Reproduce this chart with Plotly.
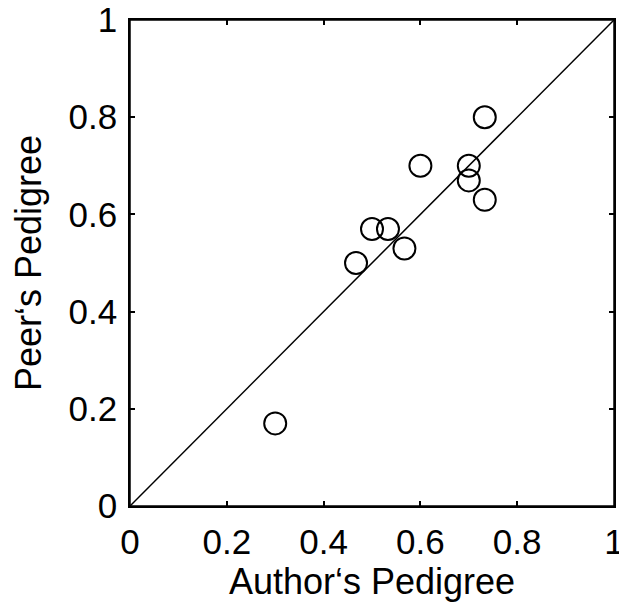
import plotly.graph_objects as go

# values
author_pedigree = [0.300, 0.467, 0.500, 0.533, 0.567, 0.600, 0.700, 0.700, 0.733, 0.733]
peer_pedigree = [0.170, 0.500, 0.570, 0.570, 0.530, 0.700, 0.700, 0.670, 0.800, 0.630]
diag = [0, 1]
tick_vals = [0, 0.2, 0.4, 0.6, 0.8, 1]
tick_text = ['0', '0.2', '0.4', '0.6', '0.8', '1']

font = dict(family='Liberation Sans, Arial, sans-serif', size=35, color='black')
title_font = dict(family='Liberation Sans, Arial, sans-serif', size=36, color='black')

fig = go.Figure()
fig.add_trace(go.Scatter(x=diag, y=diag, mode='lines',
                         line=dict(color='black', width=1.5), hoverinfo='skip'))
fig.add_trace(go.Scatter(x=author_pedigree, y=peer_pedigree, mode='markers',
                         marker=dict(symbol='circle-open', size=22, color='black',
                                     line=dict(width=2, color='black'))))

axis = dict(range=[0, 1], tickvals=tick_vals, ticktext=tick_text, ticks='inside',
            ticklen=5, tickwidth=1.5, tickcolor='black', showline=True,
            linecolor='black', linewidth=1.5, mirror='ticks', showgrid=False,
            zeroline=False, tickfont=font, title_font=title_font,
            ticklabelstandoff=4, automargin=False, ticklabeloverflow='allow')

fig.update_layout(
    width=619, height=603, autosize=False,
    margin=dict(l=130, r=5, t=20, b=97),
    plot_bgcolor='white', paper_bgcolor='white',
    showlegend=False, font=font,
)
# full box around the axes
fig.add_shape(type='rect', xref='paper', yref='paper', x0=0, y0=0, x1=1, y1=1,
              line=dict(color='black', width=1.5))
fig.update_xaxes(axis, title_text='Author‘s Pedigree', title_standoff=4)
fig.update_yaxes(axis, title_text='Peer‘s Pedigree', title_standoff=16)

# drop the default 8px page margin so the figure fills the window
fig.write_html('out.html', config={'displayModeBar': False},
               post_script="document.body.style.margin='0';"
                           "document.body.style.overflow='hidden';")
